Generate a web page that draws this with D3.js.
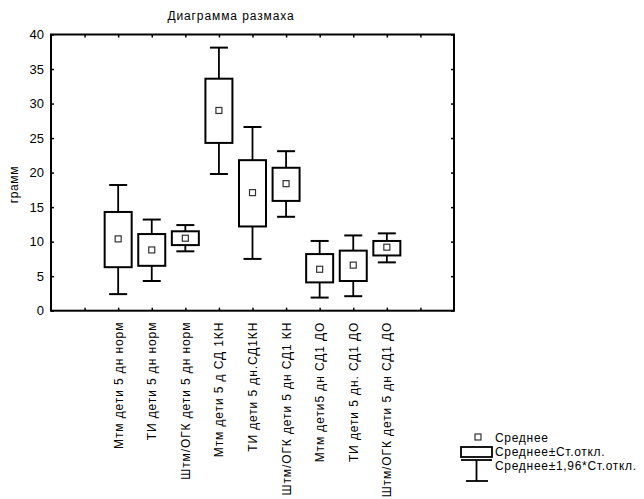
<!DOCTYPE html>
<html>
<head>
<meta charset="utf-8">
<script src="https://cdn.jsdelivr.net/npm/d3@7"></script>
<style>
  body { margin: 0; background: #fff; }
  svg { display: block; font-family: "Liberation Sans", Arial, sans-serif; }
</style>
</head>
<body>
<div id="chart"></div>
<script>
const categories = [
  'Мтм дети 5 дн норм',
  'ТИ дети 5 дн норм',
  'Штм/ОГК дети 5 дн норм',
  'Мтм дети 5 д СД 1КН',
  'ТИ дети 5 дн.СД1КН',
  'Штм/ОГК дети 5 дн СД1 КН',
  'Мтм дети5 дн СД1 ДО',
  'ТИ дети 5 дн. СД1 ДО',
  'Штм/ОГК дети 5 дн СД1 ДО'
]
const means    = [10.4, 8.8, 10.5, 29.0, 17.1, 18.4, 6.0, 6.6, 9.2]
const boxLow   = [6.3, 6.5, 9.5, 24.3, 12.2, 15.9, 4.1, 4.3, 8.0]
const boxHigh  = [14.3, 11.1, 11.5, 33.6, 21.8, 20.7, 8.2, 8.7, 10.1]
const whiskLow = [2.4, 4.3, 8.6, 19.8, 7.5, 13.6, 1.9, 2.1, 7.0]
const whiskHigh = [18.2, 13.2, 12.4, 38.1, 26.6, 23.1, 10.1, 10.9, 11.2]
const yTicks = [0, 5, 10, 15, 20, 25, 30, 35, 40]

const W = 644, H = 499
const M_LEFT = 51, M_RIGHT = 454, M_TOP = 34.5, M_BOTTOM = 310.7

const svg = d3.select('#chart').append('svg').attr('width', W).attr('height', H)

// two empty slots on each side, like the original Statistica layout
const slots = ['_a', '_b', ...categories, '_c', '_d']
const x = d3.scalePoint().domain(slots).range([M_LEFT, M_RIGHT])
const y = d3.scaleLinear().domain([0, 40]).range([M_BOTTOM, M_TOP])

svg.append('text').attr('x', 231).attr('y', 20).attr('text-anchor', 'middle')
  .attr('font-size', 12).attr('letter-spacing', 0.9).text('Диаграмма размаха')

svg.append('text').attr('transform', `translate(18,${(M_TOP + M_BOTTOM) / 2 + 12}) rotate(-90)`)
  .attr('text-anchor', 'middle').attr('font-size', 12).attr('letter-spacing', 0.6).text('грамм')

// Axes
const tickVals = slots.slice(1, -1)
svg.append('g').attr('transform', `translate(0,${M_BOTTOM})`)
  .call(d3.axisBottom(x).tickValues(tickVals).tickSize(-3).tickFormat(''))
svg.append('g').attr('transform', `translate(0,${M_TOP})`)
  .call(d3.axisTop(x).tickValues(tickVals).tickSize(-3).tickFormat(''))
svg.append('g').attr('transform', `translate(${M_LEFT},0)`)
  .call(d3.axisLeft(y).tickValues(yTicks).tickSize(-3).tickPadding(7))
svg.append('g').attr('transform', `translate(${M_RIGHT},0)`)
  .call(d3.axisRight(y).tickValues(yTicks).tickSize(-3).tickFormat(''))
svg.selectAll('.domain').remove()
svg.selectAll('.tick line').attr('stroke', '#000').attr('stroke-width', 1.5)
svg.selectAll('.tick text').attr('font-size', 13).attr('fill', '#000')
  .attr('font-family', '"Liberation Sans", Arial, sans-serif')

svg.append('rect').attr('x', M_LEFT).attr('y', M_TOP)
  .attr('width', M_RIGHT - M_LEFT).attr('height', M_BOTTOM - M_TOP)
  .attr('fill', 'none').attr('stroke', '#000').attr('stroke-width', 2)

// Category labels
svg.append('g').selectAll('text').data(categories).join('text')
  .attr('transform', d => `translate(${x(d) + 4.5},${M_BOTTOM + 11}) rotate(-90)`)
  .attr('text-anchor', 'end').attr('font-size', 12).attr('letter-spacing', 0.9)
  .text(d => d)

// Boxes
const boxW = 27, capW = 18
const g = svg.append('g').selectAll('g').data(categories).join('g')
  .attr('transform', d => `translate(${x(d)},0)`)

g.append('line').attr('y1', (d, i) => y(whiskHigh[i])).attr('y2', (d, i) => y(boxHigh[i]))
  .attr('stroke', '#000').attr('stroke-width', 1.8)
g.append('line').attr('y1', (d, i) => y(boxLow[i])).attr('y2', (d, i) => y(whiskLow[i]))
  .attr('stroke', '#000').attr('stroke-width', 1.8)
g.append('line').attr('x1', -capW / 2).attr('x2', capW / 2)
  .attr('y1', (d, i) => y(whiskHigh[i])).attr('y2', (d, i) => y(whiskHigh[i]))
  .attr('stroke', '#000').attr('stroke-width', 2)
g.append('line').attr('x1', -capW / 2).attr('x2', capW / 2)
  .attr('y1', (d, i) => y(whiskLow[i])).attr('y2', (d, i) => y(whiskLow[i]))
  .attr('stroke', '#000').attr('stroke-width', 2)
g.append('rect').attr('x', -boxW / 2).attr('width', boxW)
  .attr('y', (d, i) => y(boxHigh[i])).attr('height', (d, i) => y(boxLow[i]) - y(boxHigh[i]))
  .attr('fill', '#fff').attr('stroke', '#000').attr('stroke-width', 2)
g.append('rect').attr('x', -3).attr('width', 6).attr('height', 6)
  .attr('y', (d, i) => y(means[i]) - 3)
  .attr('fill', '#fff').attr('stroke', '#333').attr('stroke-width', 1.2)

// Legend
const lg = svg.append('g').attr('font-size', 12).attr('letter-spacing', 0.7)
lg.append('rect').attr('x', 475).attr('y', 434).attr('width', 6).attr('height', 6)
  .attr('fill', '#fff').attr('stroke', '#333').attr('stroke-width', 1.2)
lg.append('text').attr('x', 495).attr('y', 442).text('Среднее')
lg.append('rect').attr('x', 461).attr('y', 447).attr('width', 31).attr('height', 10)
  .attr('fill', '#fff').attr('stroke', '#000').attr('stroke-width', 1.8)
lg.append('text').attr('x', 495).attr('y', 456).text('Среднее±Ст.откл.')
lg.append('line').attr('x1', 461).attr('x2', 492).attr('y1', 460).attr('y2', 460)
  .attr('stroke', '#000').attr('stroke-width', 1.8)
lg.append('line').attr('x1', 476.5).attr('x2', 476.5).attr('y1', 460).attr('y2', 481)
  .attr('stroke', '#000').attr('stroke-width', 1.8)
lg.append('line').attr('x1', 466).attr('x2', 488).attr('y1', 481).attr('y2', 481)
  .attr('stroke', '#000').attr('stroke-width', 1.8)
lg.append('text').attr('x', 495).attr('y', 470).text('Среднее±1,96*Ст.откл.')
</script>
</body>
</html>
